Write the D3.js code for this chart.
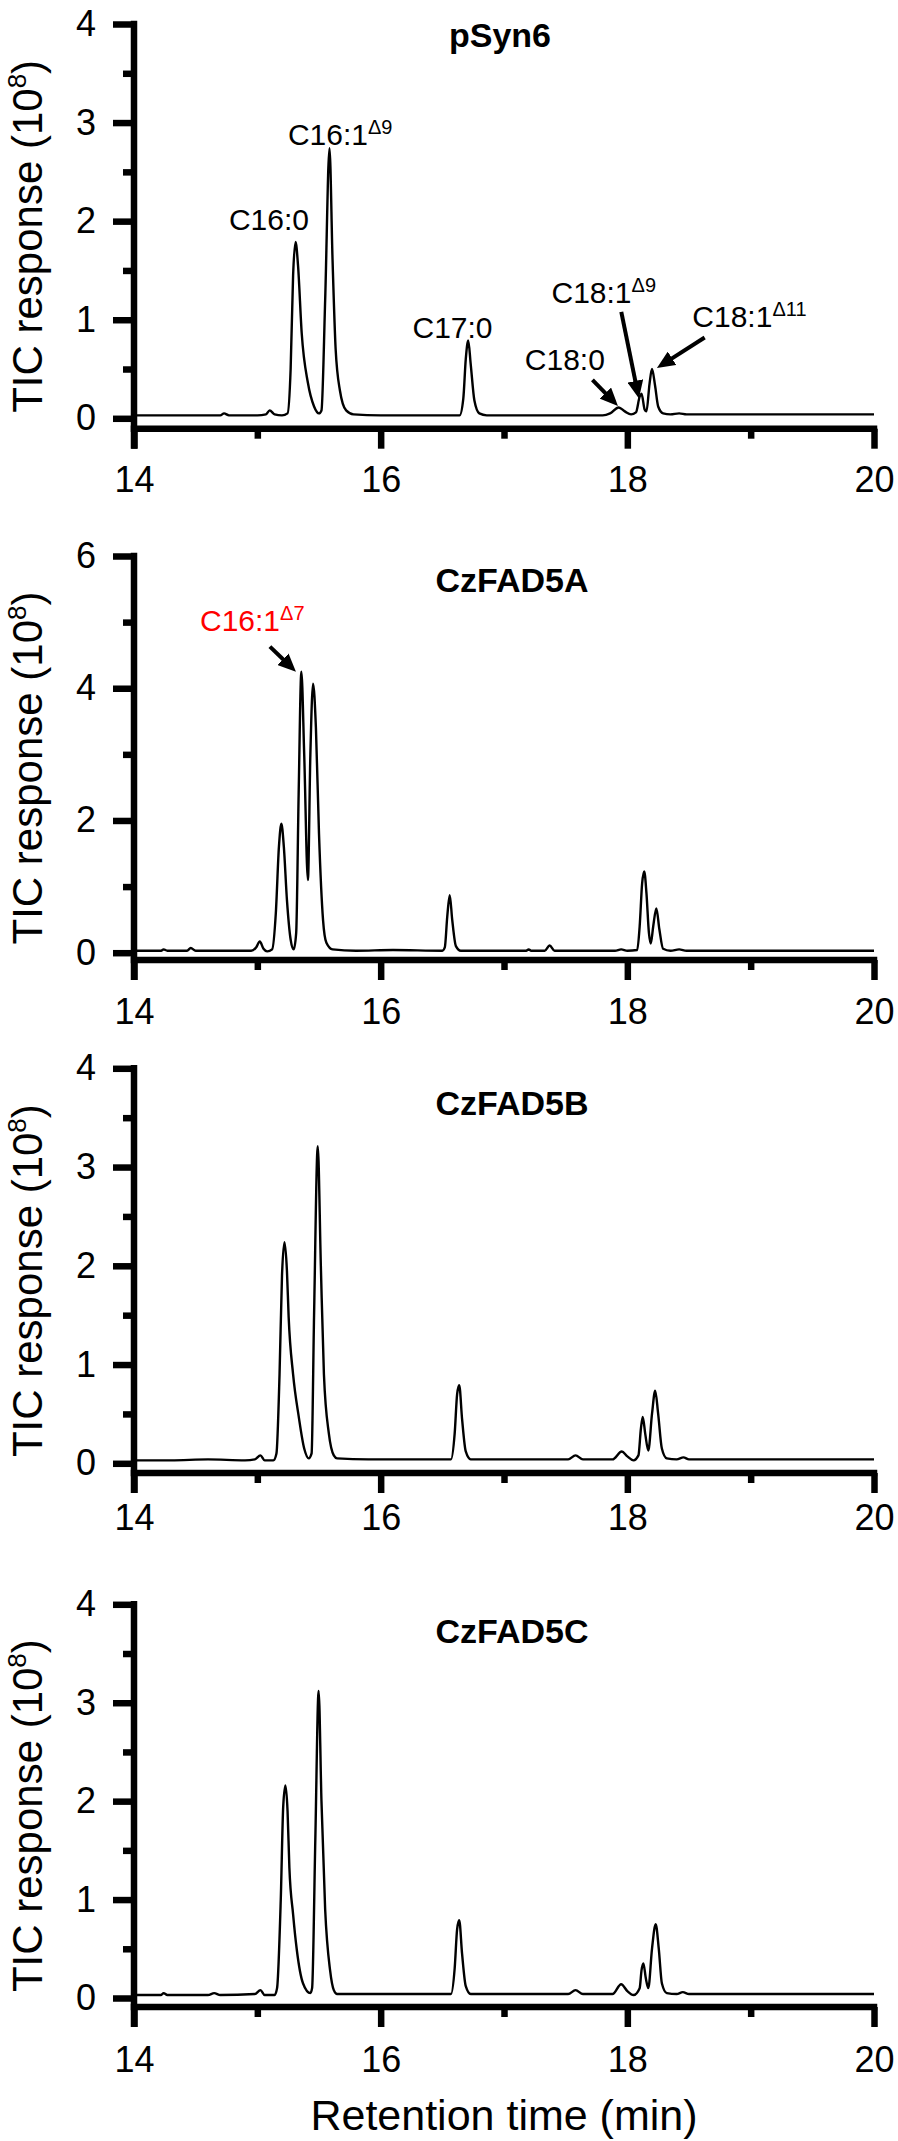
<!DOCTYPE html>
<html>
<head>
<meta charset="utf-8">
<script src="https://cdn.jsdelivr.net/npm/d3@7"></script>
<style>
  body { margin: 0; background: #fff; }
  svg { display: block; font-family: "Liberation Sans", Arial, sans-serif; }
</style>
</head>
<body>
<svg id="chart" width="898" height="2141"></svg>
<script>
// retention time axis (min)
const timeMajor = [14, 16, 18, 20];
const timeMinor = [15, 17, 19];

// TIC traces, [time (min), response (1e8)]
const pSyn6Trace = [
  [14.00, 0.03], [14.30, 0.03], [14.60, 0.03], [14.70, 0.03], [14.73, 0.05], [14.77, 0.03],
  [15.00, 0.03], [15.07, 0.04], [15.10, 0.08], [15.14, 0.04], [15.20, 0.03], [15.245, 0.05],
  [15.27, 0.5], [15.29, 1.45], [15.31, 1.79], [15.33, 1.55], [15.36, 0.86], [15.41, 0.36],
  [15.46, 0.12], [15.50, 0.05], [15.52, 0.08], [15.55, 1.2], [15.585, 2.74], [15.61, 1.6],
  [15.635, 0.7], [15.67, 0.28], [15.72, 0.08], [15.78, 0.04], [16.00, 0.03], [16.30, 0.03],
  [16.64, 0.03], [16.67, 0.2], [16.69, 0.6], [16.71, 0.79], [16.73, 0.55], [16.76, 0.18],
  [16.80, 0.05], [16.86, 0.03], [17.20, 0.03], [17.50, 0.03], [17.80, 0.03], [17.86, 0.05],
  [17.93, 0.11], [17.98, 0.07], [18.03, 0.04], [18.07, 0.06], [18.10, 0.22], [18.115, 0.25],
  [18.14, 0.09], [18.155, 0.07], [18.18, 0.35], [18.20, 0.50], [18.225, 0.33], [18.25, 0.12],
  [18.29, 0.05], [18.35, 0.04], [18.42, 0.05], [18.48, 0.04], [19.00, 0.04], [19.50, 0.04],
  [20.00, 0.04]
];

const czFAD5ATrace = [
  [14.00, 0.03], [14.22, 0.03], [14.24, 0.05], [14.27, 0.03], [14.43, 0.03], [14.46, 0.07],
  [14.50, 0.03], [14.95, 0.03], [14.99, 0.08], [15.02, 0.17], [15.05, 0.06], [15.08, 0.02],
  [15.12, 0.05], [15.15, 0.6], [15.175, 1.6], [15.195, 1.95], [15.215, 1.6], [15.24, 0.8],
  [15.27, 0.2], [15.295, 0.05], [15.315, 0.3], [15.335, 2.4], [15.357, 4.25], [15.38, 3.0],
  [15.41, 1.10], [15.43, 3.0], [15.452, 4.07], [15.475, 3.4], [15.50, 1.8], [15.533, 0.49],
  [15.56, 0.15], [15.61, 0.05], [15.80, 0.03], [16.10, 0.04], [16.50, 0.03], [16.52, 0.08],
  [16.54, 0.55], [16.56, 0.87], [16.58, 0.5], [16.61, 0.1], [16.65, 0.03], [17.00, 0.03],
  [17.18, 0.03], [17.20, 0.05], [17.22, 0.03], [17.33, 0.03], [17.37, 0.11], [17.41, 0.03],
  [17.90, 0.03], [17.95, 0.05], [18.00, 0.03], [18.08, 0.04], [18.10, 0.4], [18.12, 1.05],
  [18.137, 1.23], [18.155, 0.9], [18.175, 0.3], [18.19, 0.14], [18.21, 0.4], [18.235, 0.67],
  [18.26, 0.35], [18.29, 0.06], [18.35, 0.03], [18.42, 0.05], [18.48, 0.03], [19.00, 0.03],
  [19.50, 0.03], [20.00, 0.03]
];

const czFAD5BTrace = [
  [14.00, 0.03], [14.30, 0.03], [14.60, 0.04], [14.90, 0.03], [14.98, 0.04], [15.025, 0.08],
  [15.06, 0.03], [15.13, 0.03], [15.155, 0.1], [15.18, 0.9], [15.20, 1.9], [15.22, 2.24],
  [15.24, 1.95], [15.254, 1.48], [15.29, 0.9], [15.336, 0.47], [15.38, 0.15], [15.417, 0.05],
  [15.44, 0.1], [15.46, 1.5], [15.49, 3.21], [15.515, 2.0], [15.54, 0.9], [15.58, 0.30],
  [15.62, 0.08], [15.647, 0.05], [15.90, 0.04], [16.30, 0.04], [16.57, 0.04], [16.60, 0.3],
  [16.62, 0.7], [16.637, 0.79], [16.66, 0.45], [16.69, 0.12], [16.73, 0.04], [17.20, 0.04],
  [17.52, 0.04], [17.58, 0.08], [17.64, 0.04], [17.88, 0.04], [17.955, 0.12], [18.00, 0.07],
  [18.05, 0.03], [18.09, 0.08], [18.11, 0.35], [18.125, 0.47], [18.145, 0.3], [18.17, 0.13],
  [18.20, 0.5], [18.226, 0.735], [18.25, 0.5], [18.28, 0.15], [18.32, 0.05], [18.40, 0.04],
  [18.455, 0.06], [18.50, 0.04], [19.00, 0.04], [19.50, 0.04], [20.00, 0.04]
];

const czFAD5CTrace = [
  [14.00, 0.03], [14.22, 0.03], [14.24, 0.05], [14.27, 0.03], [14.60, 0.03], [14.65, 0.05],
  [14.70, 0.03], [14.98, 0.04], [15.025, 0.08], [15.06, 0.03], [15.14, 0.03], [15.16, 0.1],
  [15.19, 1.0], [15.21, 1.95], [15.228, 2.16], [15.245, 1.9], [15.26, 1.32], [15.29, 0.85],
  [15.32, 0.49], [15.37, 0.15], [15.43, 0.05], [15.444, 0.1], [15.47, 1.6], [15.497, 3.12],
  [15.52, 2.0], [15.55, 0.9], [15.59, 0.28], [15.62, 0.08], [15.647, 0.04], [16.00, 0.04],
  [16.30, 0.04], [16.57, 0.04], [16.60, 0.3], [16.62, 0.7], [16.637, 0.79], [16.66, 0.45],
  [16.69, 0.12], [16.73, 0.04], [17.20, 0.04], [17.52, 0.04], [17.58, 0.08], [17.64, 0.04],
  [17.88, 0.04], [17.95, 0.14], [18.00, 0.07], [18.05, 0.03], [18.10, 0.1], [18.115, 0.28],
  [18.13, 0.35], [18.15, 0.2], [18.17, 0.1], [18.20, 0.5], [18.23, 0.75], [18.255, 0.5],
  [18.28, 0.15], [18.32, 0.05], [18.40, 0.04], [18.45, 0.06], [18.50, 0.04], [19.00, 0.04],
  [19.50, 0.04], [20.00, 0.04]
];

// peak labels, anchored in data units (time, response)
const pSyn6Labels = [
  { text: "C16:0", sup: "", t: 14.77, v: 1.91 },
  { text: "C16:1", sup: "Δ9", t: 15.248, v: 2.77 },
  { text: "C17:0", sup: "", t: 16.258, v: 0.81 },
  { text: "C18:0", sup: "", t: 17.169, v: 0.49 },
  { text: "C18:1", sup: "Δ9", t: 17.385, v: 1.17 },
  { text: "C18:1", sup: "Δ11", t: 18.527, v: 0.93 }
];
const pSyn6Arrows = [
  { t0: 17.717, v0: 0.39, t1: 17.924, v1: 0.125 },
  { t0: 17.951, v0: 1.08, t1: 18.094, v1: 0.20 },
  { t0: 18.627, v0: 0.82, t1: 18.24, v1: 0.51 }
];
const czFAD5ALabels = [
  { text: "C16:1", sup: "Δ7", t: 14.535, v: 4.86, color: "#ff0000" }
];
const czFAD5AArrows = [
  { t0: 15.102, v0: 4.63, t1: 15.313, v1: 4.25 }
];

const panels = [
  { title: "pSyn6", trace: pSyn6Trace, yMax: 4, yMajor: [0, 1, 2, 3, 4], yMinor: [0.5, 1.5, 2.5, 3.5], labels: pSyn6Labels, arrows: pSyn6Arrows },
  { title: "CzFAD5A", trace: czFAD5ATrace, yMax: 6, yMajor: [0, 2, 4, 6], yMinor: [1, 3, 5], labels: czFAD5ALabels, arrows: czFAD5AArrows },
  { title: "CzFAD5B", trace: czFAD5BTrace, yMax: 4, yMajor: [0, 1, 2, 3, 4], yMinor: [0.5, 1.5, 2.5, 3.5], labels: [], arrows: [] },
  { title: "CzFAD5C", trace: czFAD5CTrace, yMax: 4, yMajor: [0, 1, 2, 3, 4], yMinor: [0.5, 1.5, 2.5, 3.5], labels: [], arrows: [] }
];

// pixel layout of each panel
const layout = [
  { yTop: 24, yZero: 418.3, axisY: 428.7, labelY: 491.7, titleX: 500, titleY: 47 },
  { yTop: 556, yZero: 952.7, axisY: 960, labelY: 1024, titleX: 512, titleY: 591.7 },
  { yTop: 1068.3, yZero: 1463.3, axisY: 1473, labelY: 1530, titleX: 512, titleY: 1115 },
  { yTop: 1604.3, yZero: 1998, axisY: 2007, labelY: 2072, titleX: 512, titleY: 1643 }
];
const xTitleY = 2130;

const svg = d3.select("#chart");
const spine = 6.5;

const x = d3.scaleLinear().domain([14, 20]).range([134, 874]);

svg.append("defs").append("marker")
  .attr("id", "head")
  .attr("markerUnits", "userSpaceOnUse")
  .attr("viewBox", "0 0 18 16")
  .attr("markerWidth", 18)
  .attr("markerHeight", 16)
  .attr("refX", 8)
  .attr("refY", 8)
  .attr("orient", "auto")
  .append("path")
  .attr("d", "M0,0 L18,8 L0,16 Z")
  .attr("fill", "#000");

panels.forEach((p, i) => {
  const L = layout[i];
  const y = d3.scaleLinear().domain([0, p.yMax]).range([L.yZero, L.yTop]);
  const g = svg.append("g");

  // x axis: major + minor ticks
  const xMaj = g.append("g").attr("transform", `translate(0,${L.axisY})`)
    .call(d3.axisBottom(x).tickValues(timeMajor).tickSize(20).tickFormat(d3.format("d")));
  xMaj.select(".domain").remove();
  xMaj.selectAll("line").attr("stroke", "#000").attr("stroke-width", spine);
  xMaj.selectAll("text")
    .attr("y", L.labelY - L.axisY).attr("dy", 0)
    .attr("font-size", 36).attr("fill", "#000")
    .style("font-family", "'Liberation Sans', Arial, sans-serif");

  const xMin = g.append("g").attr("transform", `translate(0,${L.axisY})`)
    .call(d3.axisBottom(x).tickValues(timeMinor).tickSize(10).tickFormat(""));
  xMin.select(".domain").remove();
  xMin.selectAll("line").attr("stroke", "#000").attr("stroke-width", spine);

  // y axis: major + minor ticks
  const yMaj = g.append("g").attr("transform", `translate(${x(14)},0)`)
    .call(d3.axisLeft(y).tickValues(p.yMajor).tickSize(21).tickPadding(17).tickFormat(d3.format("d")));
  yMaj.select(".domain").remove();
  yMaj.selectAll("line").attr("stroke", "#000").attr("stroke-width", spine);
  yMaj.selectAll("text")
    .attr("font-size", 36).attr("fill", "#000")
    .style("font-family", "'Liberation Sans', Arial, sans-serif");

  const yMin = g.append("g").attr("transform", `translate(${x(14)},0)`)
    .call(d3.axisLeft(y).tickValues(p.yMinor).tickSize(11).tickFormat(""));
  yMin.select(".domain").remove();
  yMin.selectAll("line").attr("stroke", "#000").attr("stroke-width", spine);

  // spines (x axis offset below zero)
  g.append("line")
    .attr("x1", x(14) - spine / 2).attr("x2", x(20) + spine / 2)
    .attr("y1", L.axisY).attr("y2", L.axisY)
    .attr("stroke", "#000").attr("stroke-width", spine);
  g.append("line")
    .attr("x1", x(14)).attr("x2", x(14))
    .attr("y1", y(p.yMax) - spine / 2).attr("y2", L.axisY + 20)
    .attr("stroke", "#000").attr("stroke-width", spine);

  // trace
  const line = d3.line()
    .x(d => x(d[0]))
    .y(d => y(d[1]))
    .curve(d3.curveMonotoneX);
  g.append("path")
    .datum(p.trace)
    .attr("d", line)
    .attr("fill", "none")
    .attr("stroke", "#000")
    .attr("stroke-width", 2.4)
    .attr("stroke-linejoin", "round");

  // panel title
  g.append("text")
    .attr("x", L.titleX).attr("y", L.titleY)
    .attr("text-anchor", "middle")
    .attr("font-size", 34).attr("font-weight", "bold")
    .text(p.title);

  // y axis title
  const midY = (y(p.yMax) + L.axisY + 20) / 2;
  const yt = g.append("text")
    .attr("transform", `translate(42,${midY}) rotate(-90)`)
    .attr("text-anchor", "middle")
    .attr("font-size", 42);
  yt.append("tspan").text("TIC response (10");
  yt.append("tspan").attr("font-size", 26).attr("dy", -16).text("8");
  yt.append("tspan").attr("dy", 16).text(")");

  // peak labels
  p.labels.forEach(lb => {
    const t = g.append("text")
      .attr("x", x(lb.t)).attr("y", y(lb.v))
      .attr("font-size", 30)
      .attr("fill", lb.color || "#000");
    t.append("tspan").text(lb.text);
    if (lb.sup) t.append("tspan").attr("font-size", 20).attr("dy", -11).text(lb.sup);
  });

  // arrows: shaft stops short of the tip, head marker fills the rest
  p.arrows.forEach(a => {
    const x0 = x(a.t0), y0 = y(a.v0), x1 = x(a.t1), y1 = y(a.v1);
    const len = Math.hypot(x1 - x0, y1 - y0);
    const ux = (x1 - x0) / len, uy = (y1 - y0) / len;
    g.append("line")
      .attr("x1", x0).attr("y1", y0)
      .attr("x2", x1 - ux * 10).attr("y2", y1 - uy * 10)
      .attr("stroke", "#000").attr("stroke-width", 4)
      .attr("marker-end", "url(#head)");
  });
});

svg.append("text")
  .attr("x", (x(14) + x(20)) / 2).attr("y", xTitleY)
  .attr("text-anchor", "middle")
  .attr("font-size", 43)
  .text("Retention time (min)");
</script>
</body>
</html>
